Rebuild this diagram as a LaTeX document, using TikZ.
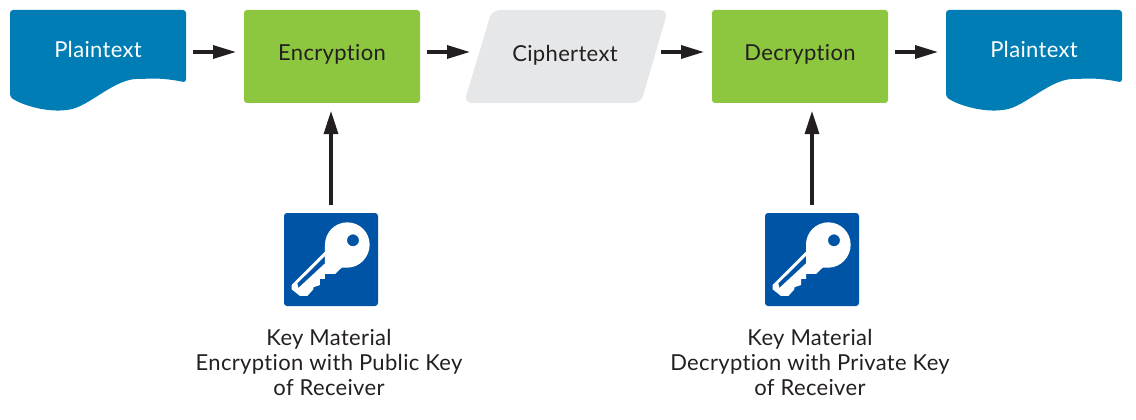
\documentclass[tikz,border=0pt]{standalone}
\usepackage{fontspec}
\setmainfont[Ligatures=NoCommon,LetterSpace=1.5]{Lato}
\usetikzlibrary{arrows.meta}
\definecolor{docblue}{HTML}{007DB4}
\definecolor{boxgreen}{HTML}{8DC63F}
\definecolor{ciphergray}{HTML}{E6E7E8}
\definecolor{keyblue}{HTML}{0054A6}
\definecolor{ink}{HTML}{231F20}
\tikzset{
  x=1pt,y=-1pt,
  every node/.style={text=ink,font=\fontsize{22}{25}\selectfont,inner sep=0pt},
  greenbox/.style={fill=boxgreen,rounded corners=3pt,minimum width=176pt,minimum height=93pt},
  keybox/.style={fill=keyblue,rounded corners=3pt,minimum width=94pt,minimum height=93pt},
  anchorbox/.style={minimum width=176pt,minimum height=93pt},
  flow/.style={draw=ink,line width=3.2pt,-{Triangle[length=23pt,width=13pt]},shorten <=7pt,shorten >=8pt},
  feed/.style={draw=ink,line width=3.2pt,-{Triangle[length=23pt,width=14pt]},shorten <=-1pt,shorten >=8pt},
  caption/.style={align=center},
}
\newcommand{\docshape}[1]{%
  \fill[docblue,rounded corners=3pt,shift={(#1,0)}]
    (0,10) -- (176,10) -- (176,82.5)
    .. controls (160,79) and (146,78) .. (132,79)
    .. controls (105,78) and (80,106) .. (57,110)
    .. controls (35,112) and (12,105) .. (0,97) -- cycle;}
\newcommand{\keyicon}[2]{%
  \begin{scope}[shift={(#1,#2)},x=0.3333pt,y=-0.3333pt]
  \fill[white,even odd rule]
    (165,155) -- (165,134)
    .. controls (165,97) and (195,67) .. (232,67)
    .. controls (269,67) and (299,97) .. (299,134)
    .. controls (299,171) and (269,203) .. (232,203)
    -- (215,203) -- (195,222) -- (165,222) -- (165,237) -- (150,237) -- (150,255)
    -- (130,262) -- (130,268) -- (112,288) -- (90,288) -- (65,268) -- (65,255) -- cycle
    (165,168) -- (82,250) -- (85,264) -- (165,190) -- cycle
    (267,121) arc[start angle=0,end angle=360,radius=18];
  \end{scope}}
\begin{document}
\begin{tikzpicture}
\useasboundingbox (0,0) rectangle (1136,420);
% documents
\docshape{10}
\docshape{946}
\node[anchorbox] (plainA) at (98,52) {};
\node[text=white,anchor=base] (plainAtext) at (98,58) {Plaintext};
\node[anchorbox] (plainB) at (1034,52) {};
\node[text=white,anchor=base] (plainBtext) at (1034,58) {Plaintext};
% boxes
\node[greenbox] (enc) at (332,56.5) {};
\node[anchor=base] (enctext) at (332,61) {Encryption};
\node[greenbox] (dec) at (800,56.5) {};
\node[anchor=base] (dectext) at (800,61) {Decryption};
% cipher
\fill[ciphergray,rounded corners=8pt] (492,10) -- (668,10) -- (641,103) -- (464,103) -- cycle;
\node[anchorbox] (cipher) at (566,56.5) {};
\node[anchor=base] (ciphertext) at (565,62) {Ciphertext};
% keys
\node[keybox] (keyA) at (331,259.5) {};
\node[keybox] (keyB) at (812,259.5) {};
\keyicon{270}{200}
\keyicon{751}{200}
% captions
\node[caption,anchor=north] (capA) at (329,329) {Key Material\\Encryption with Public Key\\of Receiver};
\node[caption,anchor=north] (capB) at (810,329) {Key Material\\Decryption with Private Key\\of Receiver};
% connectors
\coordinate (a1) at (186,52); \coordinate (a2) at (244,52);
\coordinate (b1) at (420,52); \coordinate (b2) at (478,52);
\coordinate (c1) at (654,52); \coordinate (c2) at (712,52);
\coordinate (d1) at (888,52); \coordinate (d2) at (946,52);
\draw[flow] (a1) -- (a2);
\draw[flow] (b1) -- (b2);
\draw[flow] (c1) -- (c2);
\draw[flow] (d1) -- (d2);
\coordinate (ka) at (331,204); \coordinate (kb) at (812,204);
\coordinate (ea) at (331,103); \coordinate (eb) at (812,103);
\draw[feed] (ka) -- (ea);
\draw[feed] (kb) -- (eb);
\end{tikzpicture}
\end{document}
